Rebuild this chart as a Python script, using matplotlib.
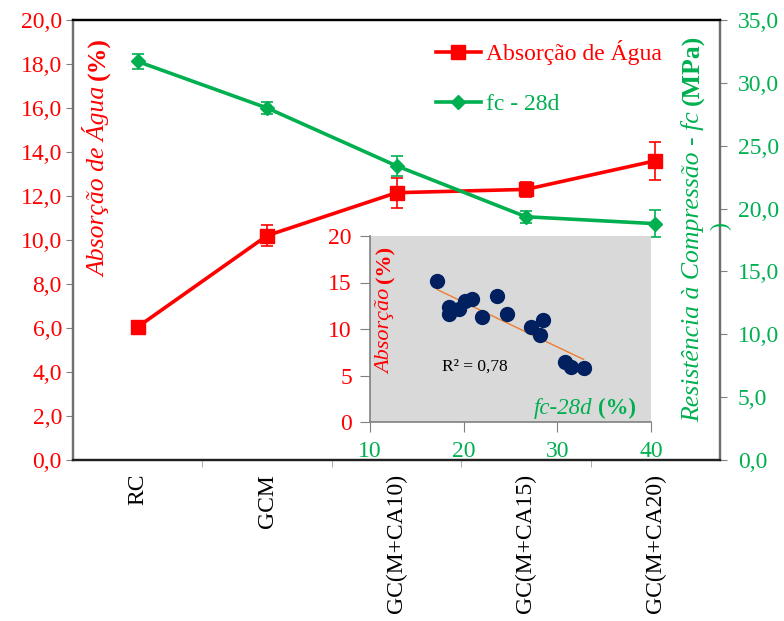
import numpy as np
import matplotlib
matplotlib.use('Agg')
import matplotlib.pyplot as plt
from matplotlib.lines import Line2D

plt.rcParams['font.family'] = 'Liberation Serif'

# main chart data
categories = ['RC', 'GCM', 'GC(M+CA10)', 'GC(M+CA15)', 'GC(M+CA20)']
absorcao = [6.05, 10.2, 12.15, 12.3, 13.6]
absorcao_err = [0.0, 0.48, 0.68, 0.34, 0.85]
fc28 = [31.7, 28.0, 23.4, 19.35, 18.8]
fc28_err = [0.6, 0.45, 0.8, 0.48, 1.05]

# inset scatter data (fc-28d vs absorcao)
inset_fc = [17.2, 18.4, 18.4, 19.5, 20.1, 20.9, 22.0, 23.6, 24.6, 27.2, 28.5, 28.1, 30.8, 31.5, 32.8]
inset_abs = [15.2, 12.4, 11.6, 12.2, 13.0, 13.2, 11.3, 13.5, 11.6, 10.2, 11.0, 9.35, 6.4, 5.9, 5.8]

RED = '#FF0000'
GREEN = '#00B050'
W, H = 784, 621
FS = 17


def rich_text(fig, cx, cy, parts, color, vertical=False, size=FS):
    # parts: list of (string, weight, style); (cx, cy) = centre of the baseline in pixels
    r = fig.canvas.get_renderer()
    gap = 0.25 * size * 100 / 72
    texts, lens = [], []
    for s, weight, style in parts:
        t = fig.text(0, 0, s, color=color, fontsize=size, fontweight=weight, fontstyle=style,
                     rotation=90 if vertical else 0, rotation_mode='anchor',
                     ha='left', va='baseline')
        bb = t.get_window_extent(r)
        texts.append(t)
        lens.append(bb.height if vertical else bb.width)
    total = sum(lens) + gap * (len(parts) - 1)
    pos = -total / 2
    for t, L in zip(texts, lens):
        if vertical:
            t.set_position((cx / W, 1 - (cy - pos) / H))
        else:
            t.set_position(((cx + pos) / W, 1 - cy / H))
        pos += L + gap


fig = plt.figure(figsize=(W / 100, H / 100), dpi=100)
ax = fig.add_axes([73 / W, 1 - 460 / H, (720 - 73) / W, (460 - 20) / H])
ax2 = ax.twinx()

x = np.arange(len(categories))
ax.errorbar(x, absorcao, yerr=absorcao_err, color=RED, lw=2.6, marker='s', ms=10,
            capsize=4, elinewidth=1.2, capthick=1.2, zorder=3)
ax2.errorbar(x, fc28, yerr=fc28_err, color=GREEN, lw=2.6, marker='D', ms=7,
             capsize=4, elinewidth=1.2, capthick=1.2, zorder=3)

ax.set_xlim(-0.5, 4.5)
ax.set_ylim(0, 20)
ax2.set_ylim(0, 35)

ax.set_xticks(x)
ax.set_xticklabels(categories, rotation=90, fontsize=FS, va='top')
ax.tick_params(axis='x', which='major', length=0, pad=10)
ax.set_xticks([0.5, 1.5, 2.5, 3.5], minor=True)
ax.tick_params(axis='x', which='minor', length=5, direction='out', color='#a0a0a0')

yt = np.arange(0, 21, 2)
ax.set_yticks(yt)
ax.set_yticklabels([f'{v:.1f}'.replace('.', ',') for v in yt], fontsize=FS, color=RED)
ax.tick_params(axis='y', length=5, direction='out', color='#808080', pad=3)

yt2 = np.arange(0, 36, 5)
ax2.set_yticks(yt2)
ax2.set_yticklabels([f'{v:.1f}'.replace('.', ',') for v in yt2], fontsize=FS, color=GREEN)
ax2.tick_params(axis='y', length=5, direction='out', color='#808080', pad=8)

for a in (ax, ax2):
    a.spines['top'].set_color('black')
    a.spines['bottom'].set_color('#202020')
    a.spines['left'].set_color('#707070')
    a.spines['right'].set_color('#707070')
    for s in a.spines.values():
        s.set_linewidth(1.6)

handles = [Line2D([], [], color=RED, lw=2.6, marker='s', ms=10),
           Line2D([], [], color=GREEN, lw=2.6, marker='D', ms=7)]
leg = fig.legend(handles, ['Absorção de Água', 'fc - 28d'], loc='upper left',
                 bbox_to_anchor=(436 / W, 1 - 40 / H), frameon=False, fontsize=FS,
                 handlelength=1.9, handletextpad=0.2, labelspacing=1.22,
                 borderpad=0, borderaxespad=0)
leg.get_texts()[0].set_color(RED)
leg.get_texts()[1].set_color(GREEN)

# inset
ins = fig.add_axes([370 / W, 1 - 422 / H, (651 - 370) / W, (422 - 236) / H])
ins.set_facecolor('#D9D9D9')
ins.plot(inset_fc, inset_abs, 'o', color='#002060', ms=10, zorder=3)
k, b = np.polyfit(inset_fc, inset_abs, 1)
xs = np.array([min(inset_fc), max(inset_fc)])
ins.plot(xs, k * xs + b, color='#ED7D31', lw=1, zorder=2)
ins.set_xlim(10, 40)
ins.set_ylim(0, 20)
ins.set_xticks([10, 20, 30, 40])
ins.set_yticks([0, 5, 10, 15, 20])
ins.tick_params(axis='x', colors=GREEN, labelsize=FS, length=7, direction='out', pad=7)
ins.tick_params(axis='y', colors=RED, labelsize=FS, length=7, direction='out', pad=6)
ins.tick_params(axis='both', color='#808080')
for s in ('top', 'right'):
    ins.spines[s].set_visible(False)
for s in ('left', 'bottom'):
    ins.spines[s].set_color('#808080')
    ins.spines[s].set_linewidth(1.2)
ins.text(0.255, 0.3, 'R² = 0,78', transform=ins.transAxes, ha='left', va='center',
         color='black', fontsize=12.5)

# axis titles drawn inside the plot area (italic text + bold unit)
rich_text(fig, 105, 157, [('Absorção de Água', 'normal', 'italic'), ('(%)', 'bold', 'normal')],
          RED, vertical=True, size=18.5)
rich_text(fig, 699, 228, [('Resistência à Compressão - fc', 'normal', 'italic'), ('(MPa)', 'bold', 'normal')],
          GREEN, vertical=True, size=18.5)
fig.text(721 / W, 1 - 226 / H, ')', rotation=90, ha='center', va='center',
         color=GREEN, fontsize=FS)
rich_text(fig, 390, 310, [('Absorção', 'normal', 'italic'), ('(%)', 'bold', 'normal')],
          RED, vertical=True, size=16)
rich_text(fig, 585, 414, [('fc-28d', 'normal', 'italic'), ('(%)', 'bold', 'normal')],
          GREEN, size=16.5)

fig.savefig('out.png', dpi=100)
